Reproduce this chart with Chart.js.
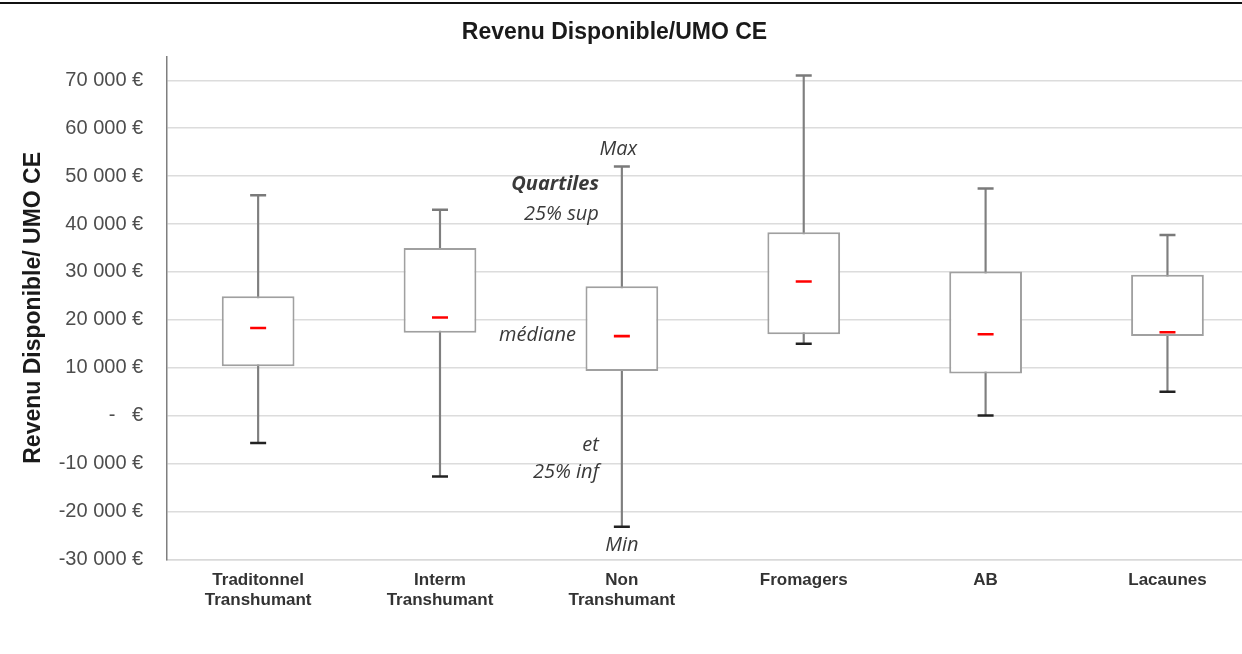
<!DOCTYPE html>
<html><head><meta charset="utf-8">
<script src="https://cdn.jsdelivr.net/npm/chart.js@4.4.1/dist/chart.umd.min.js"></script>
<style>
html,body{margin:0;padding:0;background:#fff;overflow:hidden;width:1242px;height:654px;}
#c{position:absolute;left:0;top:0;}
#topline{position:absolute;left:0;top:2px;width:1242px;height:2px;background:#111;}
</style></head><body>
<canvas id="c" width="1269" height="654"></canvas>
<div id="topline"></div>
<script>
const categories = [['Traditonnel','Transhumant'],['Interm','Transhumant'],['Non','Transhumant'],'Fromagers','AB','Lacaunes'];
const minValues    = [-5700, -12700, -23200, 15000,     0,  5000];
const q1Values     = [10300,  17300,   9300, 17000,  8800, 16600];
const medianValues = [18300,  20500,  16600, 28000, 17000, 17400];
const q3Values     = [24900,  35000,  27000, 38300, 30100, 29400];
const maxValues    = [46000,  43000,  52000, 71000, 47400, 37700];
const yTickValues  = [-30000,-20000,-10000,0,10000,20000,30000,40000,50000,60000,70000];
const chartTitle = 'Revenu Disponible/UMO CE';
const yAxisTitle = 'Revenu Disponible/ UMO CE';
const legendNotes = [
  {text:'Max', value:54340, dx:-3.5, align:'center', bold:false},
  {text:'Quartiles', value:47035, dx:-23, align:'right', bold:true},
  {text:'25% sup', value:40770, dx:-23, align:'right', bold:false},
  {text:'médiane', value:15570, dx:-46, align:'right', bold:false},
  {text:'et', value:-7390, dx:-23, align:'right', bold:false},
  {text:'25% inf', value:-13090, dx:-23, align:'right', bold:false},
  {text:'Min', value:-28270, dx:0, align:'center', bold:false}
];
const noteCategory = 2;

function fmtEuro(v){
  if(v===0) return '-\u00a0\u00a0\u00a0€';
  const s = Math.abs(v).toString().replace(/\B(?=(\d{3})+(?!\d))/g,'\u00a0');
  return (v<0?'-':'') + s + '\u00a0€';
}

const overlay = {
  id:'overlay',
  afterDraw(chart){
    const ctx = chart.ctx;
    const xs = chart.scales.x, ys = chart.scales.y;
    ctx.save();
    ctx.fillStyle = '#1a1a1a';
    ctx.font = 'bold 23px "Liberation Sans", Arial, sans-serif';
    ctx.textAlign = 'center';
    ctx.textBaseline = 'alphabetic';
    ctx.fillText(chartTitle, 614.5, 38.5);
    const cx = xs.getPixelForValue(noteCategory);
    ctx.fillStyle = '#3a3a3a';
    legendNotes.forEach(n=>{
      ctx.font = (n.bold?'italic bold ':'italic ') + '20px "Open Sans", sans-serif';
      ctx.textAlign = n.align;
      ctx.fillText(n.text, cx + n.dx, ys.getPixelForValue(n.value));
    });
    ctx.restore();
  }
};

new Chart(document.getElementById('c'), {
  type:'bar',
  data:{
    labels:categories,
    datasets:[
      {type:'line', data:medianValues, showLine:false, pointStyle:'line', pointRadius:8, pointHoverRadius:8,
       borderColor:'#ff0000', pointBorderColor:'#ff0000', pointBorderWidth:2.6, pointHoverBorderWidth:2.6, order:0},
      {type:'line', data:maxValues, showLine:false, pointStyle:'line', pointRadius:8, pointHoverRadius:8,
       borderColor:'#7a7a7a', pointBorderColor:'#7a7a7a', pointBorderWidth:2.5, order:1},
      {type:'line', data:minValues, showLine:false, pointStyle:'line', pointRadius:8, pointHoverRadius:8,
       borderColor:'#222', pointBorderColor:'#222', pointBorderWidth:2.5, order:1},
      {type:'bar', data:q1Values.map((v,i)=>[v,q3Values[i]]), backgroundColor:'#ffffff', borderColor:'#a0a0a0',
       borderWidth:2, borderSkipped:false, grouped:false, barPercentage:0.4, categoryPercentage:1, order:3},
      {type:'bar', data:minValues.map((v,i)=>[v,maxValues[i]]), backgroundColor:'#7f7f7f', borderWidth:0,
       grouped:false, barThickness:1.5, order:4}
    ]
  },
  options:{
    responsive:false, animation:false,
    events:[],
    layout:{padding:{top:56.4, right:3.6, left:0, bottom:0}},
    plugins:{legend:{display:false}, tooltip:{enabled:false}, title:{display:false}},
    scales:{
      x:{
        offset:true,
        grid:{display:false, drawTicks:false},
        border:{display:true, color:'#d9d9d9', width:1.5},
        ticks:{color:'#333', font:{family:'"Liberation Sans", Arial, sans-serif', size:17, weight:'bold', lineHeight:1.15}, padding:11.5, maxRotation:0, autoSkip:false},
        afterFit(s){ s.height = 94.7; }
      },
      y:{
        min:-30000, max:75000,
        afterBuildTicks(s){ s.ticks = yTickValues.map(v=>({value:v})); },
        afterFit(s){ s.width = 167.2; },
        grid:{color:'#dcdcdc', lineWidth:1.5, drawTicks:false},
        border:{display:true, color:'#7f7f7f', width:1.5},
        ticks:{color:'#4d4d4d', font:{family:'"Liberation Sans", Arial, sans-serif', size:20}, padding:24, callback:(v)=>fmtEuro(v)},
        title:{display:true, text:yAxisTitle, color:'#1a1a1a', font:{family:'"Liberation Sans", Arial, sans-serif', size:23, weight:'bold'}, padding:{top:20, bottom:0}}
      }
    }
  },
  plugins:[overlay]
});
</script>
</body></html>
